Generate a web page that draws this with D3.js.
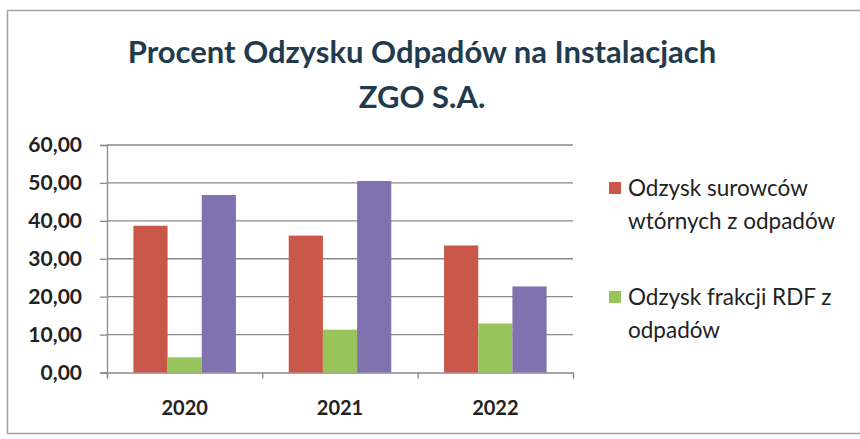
<!DOCTYPE html>
<html>
<head>
<meta charset="utf-8">
<script src="https://cdn.jsdelivr.net/npm/d3@7"></script>
<style>
  body { margin: 0; background: #fff; }
  text { font-family: Lato, "Open Sans", sans-serif; }
</style>
</head>
<body>
<main></main>
<script>
let years = ["2020", "2021", "2022"]
let seriesNames = ["Odzysk surowców wtórnych z odpadów", "Odzysk frakcji RDF z odpadów", ""]
let surowce = [38.7, 36.1, 33.5]
let rdf = [4.0, 11.3, 12.9]
let trzecia = [46.8, 50.5, 22.7]
let yTicks = [0, 10, 20, 30, 40, 50, 60]
let colors = ["#c9584b", "#96c35a", "#8171ae"]

let series = [surowce, rdf, trzecia]

let svg = d3.select('main')
    .append('svg')
    .attr('width', 860)
    .attr('height', 439)

// ramka wykresu
svg.append('rect')
    .attr('x', 7.5)
    .attr('y', 10.5)
    .attr('width', 870)
    .attr('height', 423)
    .style('fill', 'none')
    .style('stroke', '#a0a0a0')
    .style('stroke-width', 1.5)

let title = svg.append('text')
    .attr('text-anchor', 'middle')
    .style('font-weight', 'bold')
    .style('font-size', '31px')
    .style('fill', '#1f3b4d')
title.append('tspan').attr('x', 422).attr('y', 63).text('Procent Odzysku Odpadów na Instalacjach')
title.append('tspan').attr('x', 422).attr('y', 108).text('ZGO S.A.')

let x0 = d3.scaleBand()
    .domain(years)
    .range([107, 573])
    .paddingInner(0.34)
    .paddingOuter(0.17)

let x1 = d3.scaleBand()
    .domain([0, 1, 2])
    .range([0, x0.bandwidth()])

let y = d3.scaleLinear()
    .domain([0, 60])
    .range([372.5, 145])

// linie siatki
svg.append('g')
    .selectAll('line')
    .data(yTicks.slice(1))
    .join('line')
    .attr('x1', 107)
    .attr('x2', 573)
    .attr('y1', d => y(d))
    .attr('y2', d => y(d))
    .style('stroke', '#8a8a8a')
    .style('stroke-width', 1.3)

let yAxis = svg.append('g')
    .attr('transform', 'translate(107,0)')
    .call(d3.axisLeft(y).tickValues(yTicks).tickSize(7).tickFormat(d => d3.format('.2f')(d).replace('.', ',')))
yAxis.select('.domain').style('stroke', '#8a8a8a').style('stroke-width', 1.3)
yAxis.selectAll('line').style('stroke', '#8a8a8a').style('stroke-width', 1.3)
yAxis.selectAll('text')
    .attr('x', -25)
    .style('font-size', '21px')
    .style('font-weight', 'bold')
    .style('fill', '#222')

let xAxis = svg.append('g')
    .attr('transform', 'translate(0,372.5)')
    .call(d3.axisBottom(d3.scalePoint().domain(['a', 'b', 'c', 'd']).range([107, 573])).tickSize(6).tickFormat(''))
xAxis.select('.domain').style('stroke', '#8a8a8a').style('stroke-width', 1.3)
xAxis.selectAll('line').style('stroke', '#8a8a8a').style('stroke-width', 1.3)

svg.append('g')
    .selectAll('text')
    .data(years)
    .join('text')
    .attr('x', d => x0(d) + x0.bandwidth() / 2)
    .attr('y', 415)
    .attr('text-anchor', 'middle')
    .style('font-size', '20px')
    .style('font-weight', 'bold')
    .style('fill', '#222')
    .text(d => d)

// slupki
series.forEach((vals, s) => {
    svg.append('g')
        .selectAll('rect')
        .data(vals)
        .join('rect')
        .attr('x', (d, i) => x0(years[i]) + x1(s))
        .attr('y', d => y(d))
        .attr('width', x1.bandwidth())
        .attr('height', d => y(0) - y(d))
        .style('fill', colors[s])
})

// legenda (tylko dwie serie)
let legendLines = [["Odzysk surowców", "wtórnych z odpadów"], ["Odzysk frakcji RDF z", "odpadów"]]
let legendY = [196, 305]
legendLines.forEach((lines, i) => {
    svg.append('rect')
        .attr('x', 609)
        .attr('y', legendY[i] - 14)
        .attr('width', 12)
        .attr('height', 12)
        .style('fill', colors[i])
    let t = svg.append('text')
        .style('font-size', '22.5px')
        .style('fill', '#222')
    lines.forEach((l, j) => {
        t.append('tspan').attr('x', 628).attr('y', legendY[i] + j * 33).text(l)
    })
})
</script>
</body>
</html>
